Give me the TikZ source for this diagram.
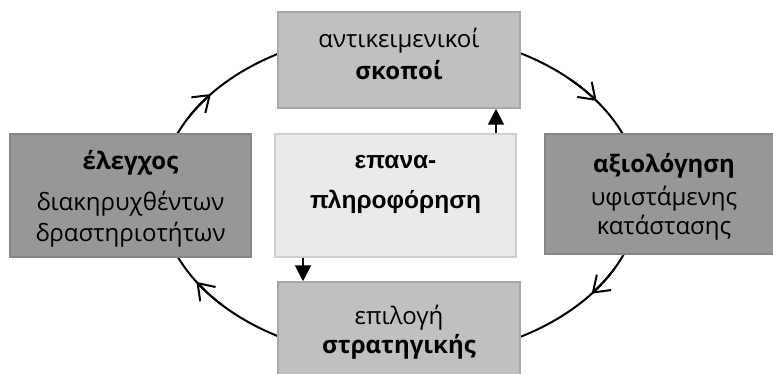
\documentclass[tikz,border=0pt]{standalone}
\usepackage{fontspec}
\setmainfont{Open Sans}
\newfontfamily\arialfont{Liberation Sans}
\usetikzlibrary{arrows.meta,backgrounds}
\definecolor{lightbox}{HTML}{C0C0C0}
\definecolor{lightedge}{HTML}{A8A8A8}
\definecolor{darkbox}{HTML}{979797}
\definecolor{darkedge}{HTML}{858585}
\definecolor{palebox}{HTML}{EAEAEA}
\definecolor{paleedge}{HTML}{CFCFCF}
\tikzset{
  lbox/.style={draw=lightedge, fill=lightbox, line width=1.5pt, minimum width=242pt, minimum height=96pt, inner sep=0pt},
  dbox/.style={draw=darkedge, fill=darkbox, line width=1.5pt, minimum width=241pt, inner sep=0pt},
  pbox/.style={draw=paleedge, fill=palebox, line width=1.5pt, minimum width=241pt, minimum height=123pt, inner sep=0pt},
  txt/.style={anchor=base, inner sep=0pt, font=\fontsize{24}{28}\selectfont},
  btxt/.style={txt, font=\fontsize{24}{28}\selectfont\bfseries},
  atxt/.style={txt, font=\fontsize{24.5}{28}\selectfont\arialfont\bfseries},
  cyc/.style={line width=2pt},
  cyctip/.style={line width=2pt, -{Straight Barb[length=15pt,width=21pt]}},
  fb/.style={line width=2pt, -{Triangle[length=16pt,width=16pt]}}
}
\begin{document}
\begin{tikzpicture}[x=1pt,y=-1pt]
\useasboundingbox (0,0) rectangle (773,374);
\clip (0,0) rectangle (773,374);
% boxes
\node[lbox] (T) at (399,60) {};
\node[dbox, minimum height=123pt] (L) at (130.5,195.5) {};
\node[pbox] (C) at (395.5,195.5) {};
\node[dbox, minimum width=242pt, minimum height=120pt] (R) at (666,194) {};
\node[lbox] (B) at (399,330) {};
% texts
\node[txt] (T1) at (399,48) {αντικειμενικοί};
\node[btxt] (T2) at (399,80) {σκοποί};
\node[btxt] (L1) at (130.5,170) {έλεγχος};
\node[txt] (L2) at (130.5,210) {διακηρυχθέντων};
\node[txt] (L3) at (130.5,241) {δραστηριοτήτων};
\node[atxt] (C1) at (395.5,169) {επανα-};
\node[atxt] (C2) at (395.5,208) {πληροφόρηση};
\node[btxt] (R1) at (664,172) {αξιολόγηση};
\node[txt] (R2) at (664,205) {υφιστάμενης};
\node[txt] (R3) at (664,234) {κατάστασης};
\node[txt] (B1) at (399,324) {επιλογή};
\node[btxt] (B2) at (399,353) {στρατηγικής};
% feedback arrows
\coordinate (cu) at (C.north -| 496,0);
\coordinate (tu) at (T.south -| 496,0);
\coordinate (cd) at (C.south -| 303,0);
\coordinate (bd) at (B.north -| 303,0);
\draw[fb] (cu) -- (tu);
\draw[fb] (cd) -- (bd);
% cycle
\begin{scope}[on background layer]
\draw[cyc] plot[domain=-180:180, samples=240] ({400+240*cos(\x)},{195+164*sin(\x)});
\draw[cyctip] plot[domain=-152:-142, samples=12] ({400+240*cos(\x)},{195+164*sin(\x)});
\draw[cyctip] plot[domain=-45:-35, samples=12] ({400+240*cos(\x)},{195+164*sin(\x)});
\draw[cyctip] plot[domain=27:37, samples=12] ({400+240*cos(\x)},{195+164*sin(\x)});
\draw[cyctip] plot[domain=138:148, samples=12] ({400+240*cos(\x)},{195+164*sin(\x)});
\end{scope}
\end{tikzpicture}
\end{document}
